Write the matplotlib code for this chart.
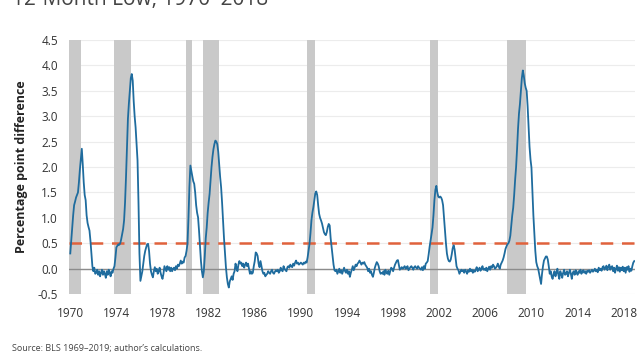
import numpy as np
import matplotlib.pyplot as plt

# monthly values, Jan 1970 - Dec 2018
values_by_year = {
    1970: [0.30, 0.55, 0.80, 1.05, 1.25, 1.32, 1.40, 1.45, 1.50, 1.70, 1.95, 2.15],
    1971: [2.36, 2.05, 1.70, 1.45, 1.35, 1.05, 0.90, 0.82, 0.75, 0.55, 0.30, 0.05],
    1972: [-0.05, 0.02, -0.10, -0.08, -0.02, -0.12, -0.05, -0.15, -0.08, -0.02, -0.12, -0.05],
    1973: [-0.10, -0.18, -0.05, -0.12, -0.02, -0.08, -0.15, -0.05, -0.08, 0.00, 0.05, 0.22],
    1974: [0.42, 0.45, 0.48, 0.47, 0.50, 0.58, 0.68, 0.78, 0.95, 1.30, 1.80, 2.40],
    1975: [2.95, 3.25, 3.50, 3.75, 3.83, 3.70, 3.30, 3.00, 2.78, 2.45, 2.13, 1.30],
    1976: [0.30, -0.24, -0.15, -0.05, 0.10, 0.25, 0.35, 0.42, 0.48, 0.49, 0.35, 0.10],
    1977: [-0.05, -0.12, -0.17, -0.05, 0.03, -0.05, 0.00, -0.10, -0.05, 0.02, -0.08, -0.15],
    1978: [-0.20, -0.10, 0.05, 0.00, -0.05, 0.05, -0.02, 0.03, -0.05, 0.02, -0.05, 0.00],
    1979: [0.02, -0.03, 0.05, 0.00, 0.08, 0.05, 0.10, 0.16, 0.10, 0.14, 0.12, 0.22],
    1980: [0.25, 0.35, 0.49, 1.00, 1.60, 2.03, 1.92, 1.82, 1.72, 1.67, 1.50, 1.25],
    1981: [1.10, 1.01, 0.75, 0.45, 0.15, -0.05, -0.17, -0.05, 0.25, 0.60, 0.81, 1.10],
    1982: [1.30, 1.47, 1.75, 2.00, 2.20, 2.35, 2.45, 2.52, 2.50, 2.45, 2.30, 2.05],
    1983: [1.80, 1.60, 1.30, 0.95, 0.60, 0.30, 0.03, -0.17, -0.30, -0.37, -0.25, -0.20],
    1984: [-0.15, -0.22, -0.10, -0.05, 0.10, 0.02, -0.05, 0.08, 0.15, 0.10, 0.12, 0.05],
    1985: [0.10, 0.02, 0.08, 0.12, 0.05, 0.10, 0.00, -0.10, -0.05, -0.10, -0.08, 0.05],
    1986: [0.15, 0.32, 0.30, 0.25, 0.10, 0.03, 0.15, 0.05, -0.05, -0.10, -0.08, -0.15],
    1987: [-0.12, -0.10, -0.05, -0.08, -0.10, -0.05, -0.02, -0.08, -0.10, -0.06, -0.03, -0.05],
    1988: [-0.02, -0.08, -0.05, 0.02, -0.03, -0.05, 0.05, 0.00, -0.03, -0.05, 0.03, 0.05],
    1989: [0.02, 0.08, 0.05, 0.03, 0.10, 0.06, 0.12, 0.16, 0.10, 0.12, 0.08, 0.10],
    1990: [0.12, 0.10, 0.08, 0.12, 0.10, 0.14, 0.12, 0.22, 0.35, 0.49, 0.70, 0.95],
    1991: [1.10, 1.21, 1.35, 1.48, 1.52, 1.45, 1.25, 1.08, 1.00, 0.95, 0.89, 0.80],
    1992: [0.72, 0.68, 0.66, 0.72, 0.82, 0.88, 0.85, 0.60, 0.43, 0.25, 0.08, -0.03],
    1993: [-0.05, -0.02, -0.10, -0.05, 0.00, -0.08, -0.03, -0.10, -0.04, 0.02, -0.05, -0.08],
    1994: [-0.02, -0.10, -0.05, -0.16, -0.08, -0.02, 0.05, -0.03, 0.02, 0.08, 0.05, 0.10],
    1995: [0.12, 0.16, 0.12, 0.08, 0.12, 0.10, 0.13, 0.08, 0.05, 0.02, -0.05, 0.00],
    1996: [-0.08, -0.05, -0.12, -0.16, -0.08, 0.02, 0.08, 0.13, 0.10, 0.05, -0.05, -0.10],
    1997: [-0.08, -0.10, -0.05, -0.12, -0.02, -0.08, -0.10, -0.04, -0.12, -0.05, 0.02, 0.00],
    1998: [-0.05, 0.02, 0.08, 0.12, 0.16, 0.17, 0.08, -0.02, 0.00, 0.03, 0.00, 0.02],
    1999: [0.05, 0.00, 0.02, 0.05, -0.03, 0.00, 0.03, 0.05, 0.02, -0.02, 0.03, 0.05],
    2000: [0.02, 0.00, 0.05, 0.02, 0.00, -0.02, 0.03, -0.03, 0.05, 0.00, 0.10, 0.12],
    2001: [0.15, 0.28, 0.43, 0.55, 0.68, 0.81, 1.05, 1.35, 1.55, 1.63, 1.50, 1.42],
    2002: [1.40, 1.42, 1.40, 1.35, 1.25, 1.01, 0.75, 0.50, 0.30, 0.20, 0.15, 0.14],
    2003: [0.18, 0.28, 0.40, 0.46, 0.38, 0.22, 0.05, 0.00, -0.03, -0.10, -0.06, -0.02],
    2004: [-0.05, -0.03, -0.08, -0.02, -0.05, -0.10, -0.03, -0.06, 0.00, -0.05, -0.02, -0.08],
    2005: [-0.03, -0.06, -0.02, 0.03, -0.05, -0.02, 0.02, -0.04, 0.00, 0.05, -0.02, 0.00],
    2006: [-0.03, 0.02, -0.05, 0.00, 0.04, -0.02, 0.05, 0.02, 0.08, 0.05, 0.00, 0.02],
    2007: [0.05, 0.10, 0.04, 0.00, 0.08, 0.12, 0.16, 0.22, 0.30, 0.39, 0.44, 0.48],
    2008: [0.50, 0.55, 0.65, 0.85, 1.05, 1.20, 1.45, 1.75, 2.00, 2.35, 2.75, 3.05],
    2009: [3.24, 3.50, 3.75, 3.90, 3.80, 3.65, 3.56, 3.50, 3.20, 2.80, 2.40, 2.15],
    2010: [1.99, 1.50, 1.05, 0.68, 0.35, 0.13, 0.05, 0.00, -0.10, -0.20, -0.30, -0.10],
    2011: [0.05, 0.16, 0.20, 0.24, 0.24, 0.18, 0.05, -0.10, -0.05, -0.15, -0.20, -0.10],
    2012: [-0.05, -0.15, -0.08, 0.00, -0.12, -0.20, -0.05, -0.10, -0.18, -0.08, -0.02, -0.12],
    2013: [-0.10, -0.05, -0.15, -0.08, -0.02, -0.10, -0.20, -0.08, -0.05, -0.12, -0.03, -0.08],
    2014: [-0.12, -0.05, -0.08, -0.02, -0.10, -0.06, -0.03, -0.08, -0.05, -0.10, -0.04, -0.06],
    2015: [-0.03, -0.08, -0.05, -0.02, -0.06, -0.04, 0.00, -0.05, -0.02, -0.07, 0.02, -0.03],
    2016: [0.00, -0.04, 0.03, 0.05, -0.02, 0.02, 0.06, -0.03, 0.04, 0.08, -0.02, 0.03],
    2017: [0.05, -0.05, 0.02, -0.08, 0.00, 0.06, -0.04, 0.03, -0.06, 0.02, -0.03, 0.04],
    2018: [-0.05, 0.02, -0.08, 0.03, -0.02, 0.05, -0.06, 0.00, -0.04, 0.05, 0.12, 0.15],
}

# recession periods (start, end) in decimal years
recessions = [(1969.92, 1970.92), (1973.83, 1975.25), (1980.0, 1980.58),
              (1981.5, 1982.92), (1990.5, 1991.25), (2001.17, 2001.92),
              (2007.92, 2009.5)]

threshold = 0.5
x_ticks = list(range(1970, 2019, 4))
y_ticks = [-0.5, 0.0, 0.5, 1.0, 1.5, 2.0, 2.5, 3.0, 3.5, 4.0, 4.5]

dates = []
series = []
for yr, vals in values_by_year.items():
    for m, v in enumerate(vals):
        dates.append(yr + m / 12)
        series.append(v)

plt.rcParams['font.family'] = ['Open Sans', 'DejaVu Sans']

fig = plt.figure(figsize=(6.4, 3.6), dpi=100)
ax = fig.add_axes([0.108, 0.183, 0.884, 0.706])

for start, end in recessions:
    ax.axvspan(start, end, color='#c9c9c9', lw=0, zorder=1)

for y in y_ticks:
    ax.axhline(y, color='#ececec', lw=0.8, zorder=0)
ax.axhline(0, color='#8c8c8c', lw=1.0, zorder=2)
ax.axhline(threshold, color='#e0623c', lw=1.8, ls=(0, (5, 3.5)), zorder=3)
ax.plot(dates, series, color='#1f6c9e', lw=1.3, zorder=4)

ax.set_xlim(1969.9, 2018.97)
ax.set_ylim(-0.5, 4.5)
ax.set_xticks(x_ticks)
ax.set_yticks(y_ticks)
ax.set_yticklabels([f'{y:.1f}' for y in y_ticks])
ax.tick_params(axis='y', length=0, labelsize=8.5, colors='#333333', pad=8)
ax.tick_params(axis='x', length=0, labelsize=8.5, colors='#333333', pad=9)
for s in ax.spines.values():
    s.set_visible(False)
ax.set_ylabel('Percentage point difference', fontsize=9, fontweight='bold',
              color='#222222', labelpad=7)

fig.text(0.019, 0.986, '12-Month Low, 1970–2018', fontsize=15,
         color='#444444', va='baseline')
fig.text(0.019, 0.024, "Source: BLS 1969–2019; author’s calculations.",
         fontsize=6.5, color='#444444')

fig.savefig('out.png', dpi=100)
